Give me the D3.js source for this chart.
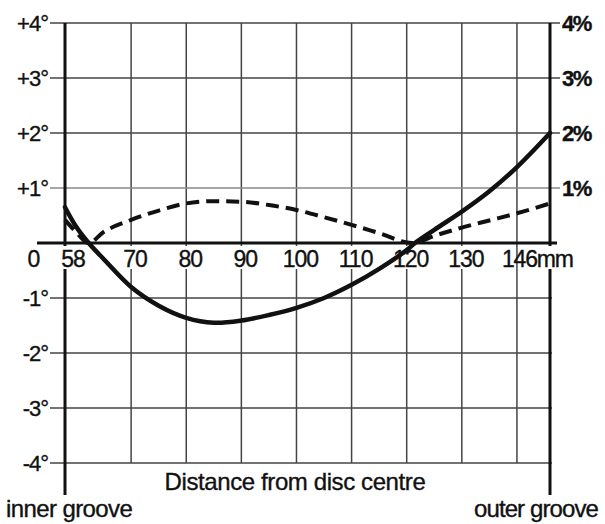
<!DOCTYPE html>
<html>
<head>
<meta charset="utf-8">
<script src="https://cdnjs.cloudflare.com/ajax/libs/d3/7.8.5/d3.min.js"></script>
<style>
  body { margin: 0; background: #fff; }
  text { font-family: "Liberation Sans", Arial, sans-serif; fill: #111; stroke: #111; stroke-width: 0.35px; }
</style>
</head>
<body>
<script>
// chart size
var w = 605;
var h = 524;

// data
var gridMm = [70, 80, 90, 100, 110, 120, 130, 140];
var tickMm = [58, 70, 80, 90, 100, 110, 120, 130];
var degTicks = [4, 3, 2, 1, -1, -2, -3, -4];
var pctTicks = [4, 3, 2, 1];

// tracking error, degrees (solid)
var errMm  = [58, 60, 62.3, 65, 70, 75, 80, 85, 90, 95, 100, 105, 110, 115, 120, 121.5, 125, 130, 135, 140, 146];
var errDeg = [0.65, 0.3, 0, -0.29, -0.8, -1.14, -1.36, -1.45, -1.41, -1.31, -1.18, -1.0, -0.76, -0.47, -0.13, 0, 0.24, 0.57, 0.94, 1.38, 2.0];

// distortion, percent (dashed)
var distMm  = [58, 60, 62.3, 65, 70, 75, 80, 85, 90, 95, 100, 105, 110, 115, 121, 125, 130, 135, 140, 146];
var distPct = [0.42, 0.2, 0, 0.2, 0.42, 0.59, 0.72, 0.76, 0.75, 0.69, 0.6, 0.47, 0.33, 0.18, 0, 0.13, 0.28, 0.41, 0.54, 0.72];

// scales
var x = d3.scaleLinear().domain([58, 146]).range([65, 550]);
var y = d3.scaleLinear().domain([-4, 4]).range([463, 23]);
var yPct = d3.scaleLinear().domain([-4, 4]).range([463, 23]);

var svg = d3.select("body").append("svg")
    .attr("width", w)
    .attr("height", h);

// vertical grid lines
svg.selectAll(".vgrid")
    .data(gridMm)
    .enter()
    .append("line")
    .attr("x1", function(d) { return x(d); })
    .attr("x2", function(d) { return x(d); })
    .attr("y1", y(4))
    .attr("y2", y(-4))
    .attr("stroke", "#444")
    .attr("stroke-width", 1.5);

// horizontal grid lines (positive ones run out to the % labels)
svg.selectAll(".hgrid")
    .data(degTicks)
    .enter()
    .append("line")
    .attr("x1", 50)
    .attr("x2", function(d) { return d > 0 ? 560 : 552; })
    .attr("y1", function(d) { return y(d); })
    .attr("y2", function(d) { return y(d); })
    .attr("stroke", function(d) { return d === 1 ? "#888" : "#444"; })
    .attr("stroke-width", 1.5);

// heavy frame: inner/outer groove verticals and zero line
svg.append("line")
    .attr("x1", x(58)).attr("x2", x(58))
    .attr("y1", y(4)).attr("y2", 495)
    .attr("stroke", "#111").attr("stroke-width", 3);

svg.append("line")
    .attr("x1", x(146)).attr("x2", x(146))
    .attr("y1", y(4)).attr("y2", 495)
    .attr("stroke", "#111").attr("stroke-width", 3);

svg.append("line")
    .attr("x1", 37).attr("x2", 557)
    .attr("y1", y(0)).attr("y2", y(0))
    .attr("stroke", "#111").attr("stroke-width", 3);

// x labels with white boxes that break the grid lines
var xLab = svg.selectAll(".xlab")
    .data(tickMm)
    .enter()
    .append("g");

xLab.append("rect")
    .attr("x", function(d) { return x(d) + (d === 58 ? 8 : 4) - (d >= 100 ? 19 : 14); })
    .attr("y", y(0) + 3)
    .attr("width", function(d) { return d >= 100 ? 38 : 28; })
    .attr("height", 23)
    .attr("fill", "#fff");

xLab.append("text")
    .attr("x", function(d) { return x(d) + (d === 58 ? 8 : 4); })
    .attr("y", 267)
    .attr("text-anchor", "middle")
    .attr("font-size", "23px")
    .attr("letter-spacing", "-1px")
    .text(function(d) { return d; });

svg.append("rect")
    .attr("x", x(146) - 6).attr("y", y(0) + 3)
    .attr("width", 12).attr("height", 23)
    .attr("fill", "#fff");

svg.append("text")
    .attr("x", 502).attr("y", 267)
    .attr("font-size", "23px")
    .attr("letter-spacing", "-1.2px")
    .text("146mm");

svg.append("text")
    .attr("x", 34).attr("y", 267)
    .attr("text-anchor", "middle")
    .attr("font-size", "23px")
    .text("0");

// left axis labels (degrees)
svg.selectAll(".ylab")
    .data(degTicks)
    .enter()
    .append("text")
    .attr("x", 48)
    .attr("y", function(d) { return y(d) + 8; })
    .attr("text-anchor", "end")
    .attr("font-size", "22px")
    .attr("letter-spacing", "-1px")
    .text(function(d) { return (d > 0 ? "+" : "-") + Math.abs(d) + "°"; });

// right axis labels (percent)
svg.selectAll(".plab")
    .data(pctTicks)
    .enter()
    .append("text")
    .attr("x", 562)
    .attr("y", function(d) { return yPct(d) + 8; })
    .attr("font-size", "22px")
    .attr("letter-spacing", "-1.5px")
    .attr("font-weight", "bold")
    .text(function(d) { return d + "%"; });

// curves
var errLine = d3.line()
    .x(function(d, i) { return x(errMm[i]); })
    .y(function(d) { return y(d); })
    .curve(d3.curveCatmullRom.alpha(0.5));

svg.append("path")
    .datum(errDeg)
    .attr("d", errLine)
    .attr("fill", "none")
    .attr("stroke", "#111")
    .attr("stroke-width", 4.5)
    .attr("stroke-linecap", "round");

var distLine = d3.line()
    .x(function(d, i) { return x(distMm[i]); })
    .y(function(d) { return yPct(d); })
    .curve(d3.curveMonotoneX);

svg.append("path")
    .datum(distPct)
    .attr("d", distLine)
    .attr("fill", "none")
    .attr("stroke", "#111")
    .attr("stroke-width", 4)
    .attr("stroke-dasharray", "13,7");

// captions
svg.append("text")
    .attr("x", 295).attr("y", 490)
    .attr("text-anchor", "middle")
    .attr("font-size", "24px")
    .attr("letter-spacing", "-0.4px")
    .text("Distance from disc centre");

svg.append("text")
    .attr("x", 6).attr("y", 517)
    .attr("font-size", "24px")
    .attr("letter-spacing", "-0.6px")
    .text("inner groove");

svg.append("text")
    .attr("x", 474).attr("y", 517)
    .attr("font-size", "24px")
    .attr("letter-spacing", "-0.9px")
    .text("outer groove");
</script>
</body>
</html>
